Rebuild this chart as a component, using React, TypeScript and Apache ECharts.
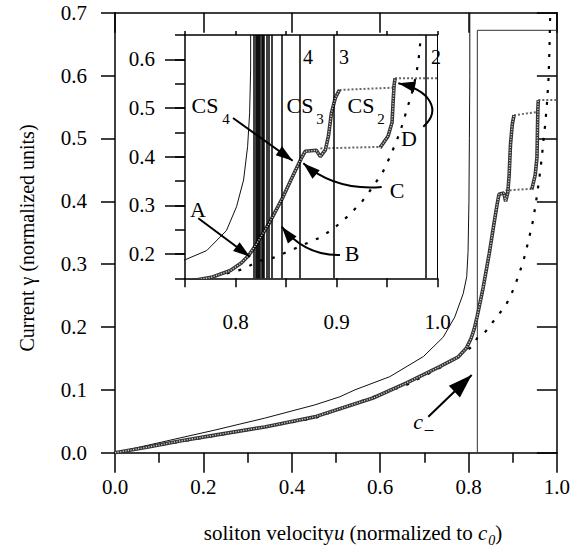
import React, { useEffect, useRef } from "react";
import * as echarts from "echarts";

// ---- data (u = soliton velocity, g = current gamma) ----
const thinCurveMain: [number, number][] = [
  [0, 0], [0.075, 0.012], [0.226, 0.036], [0.339, 0.055], [0.452, 0.076], [0.509, 0.089],
  [0.543, 0.1], [0.622, 0.121], [0.698, 0.153], [0.743, 0.184], [0.769, 0.216], [0.788, 0.253],
  [0.796, 0.28], [0.799, 0.32], [0.801, 0.4], [0.802, 0.5], [0.803, 0.6], [0.803, 0.7],
];
const thinCurveInset: [number, number][] = [
  [0.743, 0.183], [0.75, 0.188], [0.7715, 0.207], [0.791, 0.248], [0.801, 0.297], [0.808, 0.352],
  [0.812, 0.421], [0.814, 0.49], [0.815, 0.58], [0.815, 0.65],
];
const dashedCurve: [number, number][] = [
  [0, 0], [0.226, 0.027], [0.452, 0.055], [0.66, 0.108], [0.735, 0.135], [0.776, 0.152],
  [0.808, 0.169], [0.822, 0.185], [0.839, 0.193], [0.854, 0.207], [0.884, 0.234], [0.897, 0.252],
  [0.912, 0.279], [0.925, 0.307], [0.936, 0.338], [0.946, 0.369], [0.953, 0.4], [0.96, 0.435],
  [0.966, 0.47], [0.97, 0.5], [0.974, 0.525], [0.978, 0.56], [0.981, 0.594], [0.983, 0.636], [0.985, 0.7],
];
const beadedCS4CS3: [number, number][] = [
  [0, 0], [0.075, 0.009], [0.15, 0.019], [0.226, 0.028], [0.339, 0.041], [0.452, 0.057], [0.509, 0.07],
  [0.584, 0.087], [0.66, 0.111], [0.735, 0.137], [0.776, 0.152], [0.795, 0.166], [0.806, 0.182],
  [0.813, 0.197], [0.82, 0.218], [0.833, 0.262], [0.847, 0.317], [0.858, 0.366], [0.865, 0.396],
  [0.869, 0.411], [0.88, 0.413], [0.884, 0.4], [0.889, 0.414], [0.892, 0.442], [0.895, 0.49],
  [0.899, 0.522], [0.903, 0.537],
];
const beadedCS2: [number, number][] = [
  [0.943, 0.418], [0.951, 0.442], [0.955, 0.47], [0.956, 0.511], [0.957, 0.546], [0.958, 0.561],
];
const jumpLow: [number, number][] = [[0.884, 0.417], [0.943, 0.42]];
const jumpMid: [number, number][] = [[0.903, 0.537], [0.958, 0.542]];
const jumpTop: [number, number][] = [[0.958, 0.561], [1.0, 0.561]];
const cMinusLine: [number, number][] = [[0.82, 0], [0.82, 0.672], [1.0, 0.672]];
const insetModeLines = [
  0.8176, 0.8205, 0.8215, 0.8225, 0.8235, 0.8245, 0.8255, 0.8265, 0.8275,
  0.831, 0.8325, 0.836, 0.846, 0.8632, 0.8968, 0.9886,
];
const modeLabels = ["4", "3", "2"];
const insetMajorY = [0.2, 0.3, 0.4, 0.5, 0.6];

const FONT = "'Liberation Serif', 'Times New Roman', serif";

function head(tx: number, ty: number, dx: number, dy: number, L: number, W: number) {
  const n = Math.hypot(dx, dy);
  const ux = dx / n, uy = dy / n;
  const bx = tx - ux * L, by = ty - uy * L;
  return {
    type: "polygon", z: 100,
    shape: { points: [[tx, ty], [bx - uy * W, by + ux * W], [bx + uy * W, by - ux * W]] },
    style: { fill: "#000" },
  };
}
function straightArrow(x1: number, y1: number, x2: number, y2: number, L: number, W: number) {
  return [
    { type: "line", z: 100, shape: { x1, y1, x2, y2 }, style: { stroke: "#000", lineWidth: 2 } },
    head(x2, y2, x2 - x1, y2 - y1, L, W),
  ];
}
function curvedArrow(x1: number, y1: number, x2: number, y2: number, cp: number[], L: number, W: number) {
  const shape: any = { x1, y1, x2, y2, cpx1: cp[0], cpy1: cp[1] };
  let lx = cp[0], ly = cp[1];
  if (cp.length === 4) { shape.cpx2 = cp[2]; shape.cpy2 = cp[3]; lx = cp[2]; ly = cp[3]; }
  return [
    { type: "bezierCurve", z: 100, shape, style: { stroke: "#000", lineWidth: 2, fill: null } },
    head(x2, y2, x2 - lx, y2 - ly, L, W),
  ];
}
function txt(s: string, x: number, y: number, size: number, extra: any = {}) {
  return {
    type: "text", x, y, z: 100,
    style: {
      text: s, fontFamily: FONT, fontSize: size, fill: "#000",
      align: "center", verticalAlign: "middle", textAlign: "center", textVerticalAlign: "middle",
      ...extra,
    },
  };
}

const lineSeries = (data: any, xi: number, yi: number, lineStyle: any, z = 2) => ({
  type: "line", data, xAxisIndex: xi, yAxisIndex: yi, showSymbol: false, symbol: "none",
  lineStyle, z, silent: true, clip: true,
});

function seriesFor(xi: number, yi: number, thin: [number, number][]) {
  const beadBase = { color: "#333", width: 3.6 };
  const beadTop = { color: "#cfcfcf", width: 1.4, type: [1.2, 1.4] };
  const dotted = { color: "#666", width: 2, type: [2, 2] };
  return [
    lineSeries(thin, xi, yi, { color: "#111", width: 1 }),
    lineSeries(dashedCurve, xi, yi, { color: "#000", width: 2.2, type: [3, 9] }),
    lineSeries(jumpLow, xi, yi, dotted, 3),
    lineSeries(jumpMid, xi, yi, dotted, 3),
    lineSeries(jumpTop, xi, yi, dotted, 3),
    lineSeries(beadedCS4CS3, xi, yi, beadBase, 4),
    lineSeries(beadedCS4CS3, xi, yi, beadTop, 5),
    lineSeries(beadedCS2, xi, yi, beadBase, 4),
    lineSeries(beadedCS2, xi, yi, beadTop, 5),
  ];
}

const axisLineStyle = { color: "#000", width: 1.5 };
const labelBase = { fontFamily: FONT, fontSize: 21, color: "#000" };
const isTenth = (v: number) => Math.abs(v * 10 - Math.round(v * 10)) < 1e-6;

export default function App() {
  const ref = useRef<HTMLDivElement>(null);
  useEffect(() => {
    const chart = echarts.init(ref.current!, null, { renderer: "svg" });
    const graphic: any[] = [
      {
        type: "text", x: 27, y: 238, rotation: Math.PI / 2,
        style: {
          text: "Current γ (normalized units)", fontFamily: FONT, fontSize: 20, fill: "#000",
          align: "center", verticalAlign: "middle", textAlign: "center", textVerticalAlign: "middle",
        },
      },
      {
        type: "text", x: 353, y: 533,
        style: {
          text: "{n|soliton velocity}{i|u}{n| (normalized to }{i|c}{s|0}{n|)}",
          fontFamily: FONT, fontSize: 21, fill: "#000",
          align: "center", verticalAlign: "middle", textAlign: "center", textVerticalAlign: "middle",
          rich: {
            n: { fontFamily: FONT, fontSize: 21, fill: "#000" },
            i: { fontFamily: FONT, fontSize: 21, fontStyle: "italic", fill: "#000" },
            s: { fontFamily: FONT, fontSize: 14, fontStyle: "italic", fill: "#000", padding: [14, 0, 0, 1] },
          },
        },
      },
      txt(modeLabels[0], 308, 57, 20),
      txt(modeLabels[1], 344, 57, 20),
      txt(modeLabels[2], 436, 57, 20),
      txt("CS", 205, 105, 22), txt("4", 226, 119, 15),
      txt("CS", 300, 105, 22), txt("3", 320, 119, 15),
      txt("CS", 361, 105, 22), txt("2", 381, 119, 15),
      txt("A", 198, 209, 22), txt("B", 352, 253, 22), txt("C", 397, 190, 22), txt("D", 409, 138, 22),
      txt("c", 418, 421, 22, { fontStyle: "italic" }),
      txt("_", 429, 423, 17, { fontStyle: "italic" }),
      ...straightArrow(233, 118, 292.7, 160.7, 17, 5.5),
      ...straightArrow(198.3, 218.3, 250, 256.7, 17, 5.5),
      ...curvedArrow(340, 255, 281.7, 226.7, [305, 256], 17, 5.5),
      ...curvedArrow(381.7, 187, 303.3, 163.3, [335, 191], 17, 5.5),
      ...curvedArrow(423.3, 126.7, 398.3, 83.3, [442, 110, 430, 90], 17, 5.5),
      ...straightArrow(428.3, 416.7, 471.7, 375, 24, 8),
    ];
    const option: any = {
      animation: false,
      backgroundColor: "#fff",
      textStyle: { fontFamily: FONT },
      grid: [
        { left: 115, top: 12.7, width: 442, height: 440, show: false },
        { left: 185, top: 35, width: 252.5, height: 243.3, show: true, backgroundColor: "#fff", borderWidth: 0 },
      ],
      xAxis: [
        {
          type: "value", gridIndex: 0, min: 0, max: 1, interval: 0.2, position: "bottom",
          axisLine: { show: true, onZero: false, lineStyle: axisLineStyle },
          axisTick: { show: true, inside: false, length: 20, lineStyle: axisLineStyle },
          minorTick: { show: true, splitNumber: 2, length: 10, lineStyle: axisLineStyle },
          axisLabel: { ...labelBase, margin: 24, formatter: (v: number) => v.toFixed(1) },
          splitLine: { show: false }, minorSplitLine: { show: false },
        },
        {
          type: "value", gridIndex: 0, min: 0, max: 1, interval: 0.2, position: "top",
          axisLine: { show: true, onZero: false, lineStyle: axisLineStyle },
          axisTick: { show: true, inside: true, length: 20, lineStyle: axisLineStyle },
          axisLabel: { show: false }, splitLine: { show: false },
        },
        {
          type: "value", gridIndex: 1, min: 0.75, max: 1, interval: 0.05, position: "bottom",
          axisLine: { show: true, onZero: false, lineStyle: axisLineStyle },
          axisTick: { show: true, inside: false, length: 9, lineStyle: axisLineStyle },
          axisLabel: { ...labelBase, margin: 33, formatter: (v: number) => (isTenth(v) ? v.toFixed(1) : "") },
          splitLine: { show: false },
        },
        {
          type: "value", gridIndex: 1, min: 0.75, max: 1, interval: 0.05, position: "top",
          axisLine: { show: true, onZero: false, lineStyle: axisLineStyle },
          axisTick: { show: true, inside: false, length: 4, lineStyle: axisLineStyle },
          axisLabel: { show: false }, splitLine: { show: false },
        },
      ],
      yAxis: [
        {
          type: "value", gridIndex: 0, min: 0, max: 0.7, interval: 0.1, position: "left",
          axisLine: { show: true, onZero: false, lineStyle: axisLineStyle },
          axisTick: { show: true, inside: false, length: 14, lineStyle: axisLineStyle },
          axisLabel: { ...labelBase, margin: 28, formatter: (v: number) => v.toFixed(1) },
          splitLine: { show: false },
        },
        {
          type: "value", gridIndex: 0, min: 0, max: 0.7, interval: 0.1, position: "right",
          axisLine: { show: true, onZero: false, lineStyle: axisLineStyle },
          axisTick: { show: true, inside: true, length: 20, lineStyle: axisLineStyle },
          axisLabel: { show: false }, splitLine: { show: false },
        },
        {
          type: "value", gridIndex: 1, min: 0.15, max: 0.65, interval: 0.05, position: "left",
          axisLine: { show: true, onZero: false, lineStyle: axisLineStyle },
          axisTick: { show: true, inside: false, length: 10, lineStyle: axisLineStyle },
          axisLabel: { ...labelBase, margin: 30, formatter: (v: number) => (isTenth(v) ? v.toFixed(1) : "") },
          splitLine: { show: false },
        },
        {
          type: "value", gridIndex: 1, min: 0.15, max: 0.65, interval: 0.05, position: "left",
          axisLine: { show: false },
          axisTick: { show: true, inside: false, length: 20, customValues: insetMajorY, lineStyle: axisLineStyle },
          axisLabel: { show: false }, splitLine: { show: false },
        },
        {
          type: "value", gridIndex: 1, min: 0.15, max: 0.65, interval: 0.05, position: "right",
          axisLine: { show: true, onZero: false, lineStyle: { color: "#000", width: 1 } },
          axisTick: { show: false }, axisLabel: { show: false }, splitLine: { show: false },
        },
      ],
      series: [
        ...seriesFor(0, 0, thinCurveMain),
        lineSeries(cMinusLine, 0, 0, { color: "#333", width: 1 }, 1),
        {
          type: "line", data: [], xAxisIndex: 2, yAxisIndex: 2, silent: true, z: 1,
          markLine: {
            silent: true, symbol: ["none", "none"], label: { show: false }, precision: 5,
            lineStyle: { color: "#000", width: 1.5, type: "solid" },
            data: insetModeLines.map((u) => ({ xAxis: u })),
          },
        },
        ...seriesFor(2, 2, thinCurveInset),
      ],
      graphic,
    };
    chart.setOption(option);
    return () => chart.dispose();
  }, []);
  return <div ref={ref} style={{ position: "fixed", left: 0, top: 0, width: 573, height: 557, background: "#fff" }} />;
}
